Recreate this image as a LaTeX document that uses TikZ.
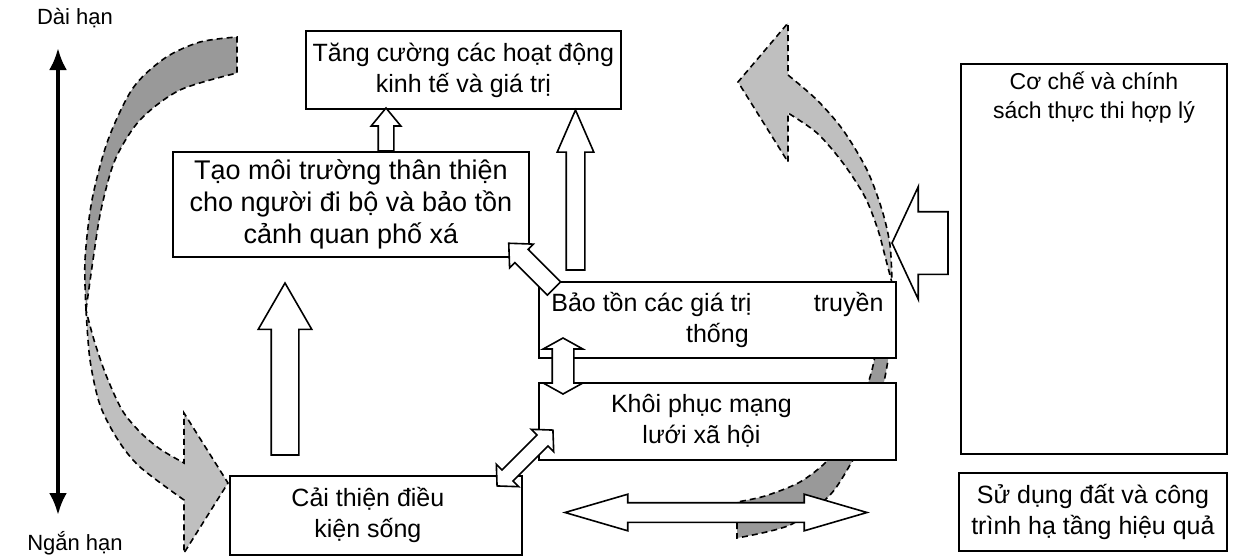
\documentclass[tikz,border=0pt]{standalone}
\usepackage{fontspec}
\setmainfont{Liberation Sans}
\usetikzlibrary{shapes.arrows,arrows.meta,positioning}

\begin{document}
\begin{tikzpicture}[
  x=0.5pt, y=-0.5pt,
  pbox/.style={draw, fill=white, line width=0.9pt, align=center, inner sep=0pt,
               font=\fontsize{12.5}{15.5}\selectfont, anchor=north west},
  ptext/.style={align=center, inner sep=0pt, font=\fontsize{11.5}{14.5}\selectfont},
  term/.style={font=\fontsize{11}{13}\selectfont, inner sep=0pt},
  ribA/.style={fill=black!40, draw=black, line width=0.8pt, dash pattern=on 3pt off 2pt},
  ribB/.style={fill=black!25, draw=black, line width=0.8pt, dash pattern=on 3pt off 2pt},
  blk/.style={single arrow, draw, fill=white, line width=0.8pt, inner xsep=0pt,
              outer sep=0pt, single arrow head indent=0pt, anchor=tail},
  dblk/.style={double arrow, draw, fill=white, line width=0.8pt, inner xsep=0pt,
               outer sep=0pt, double arrow head indent=0pt},
  termarr/.style={{Latex[length=11pt,width=9pt]}-{Latex[length=11pt,width=9pt]}, line width=2pt},
]
\useasboundingbox (0,0) rectangle (1252,558);

%% -- long / short term axis
\node[term] (longt)  at (75,18)  {Dài hạn};
\node[term] (shortt) at (75,543) {Ngắn hạn};
\coordinate (longend)  at (58,48);
\coordinate (shortend) at (58,515);
\draw[termarr] (longend) -- (shortend);

%% -- cycle ribbons (behind the boxes)
% left: dark half then light half with head
\filldraw[ribA] plot[smooth] coordinates {(86,310) (85,260) (92,200) (108,140) (133,88) (165,58) (200,42) (237,37)}
  -- (237,73)
  -- plot[smooth] coordinates {(237,73) (180,90) (140,120) (115,160) (101,210) (93,260) (86,310)} -- cycle;
\filldraw[ribB] plot[smooth] coordinates {(86,310) (90,360) (100,405) (118,440) (140,467) (184,500)}
  -- (184,553) -- (228,483) -- (184,413)
  -- plot[smooth] coordinates {(184,463) (160,449) (140,432) (122,410) (106,375) (94,340) (86,310)} -- cycle;
% right: light half with head then dark half
\filldraw[ribB] plot[smooth] coordinates {(788,75) (817,100) (843,130) (867,170) (882,210) (890,245) (892,283)}
  -- plot[smooth] coordinates {(892,283) (886,260) (878,230) (865,197) (843,163) (817,133) (788,113)}
  -- (788,162) -- (738,82) -- (788,23) -- cycle;
\filldraw[ribA] plot[smooth] coordinates {(892,283) (891,330) (888,360) (880,400) (868,435) (853,460) (830,495) (790,525) (737,538)}
  -- (737,502)
  -- plot[smooth] coordinates {(737,502) (765,496) (800,482) (828,460) (848,430) (862,400) (872,370) (880,330) (892,283)} -- cycle;

%% -- boxes
\node[pbox, minimum width=157.5pt, minimum height=39pt] (econ) at (305,30)
  {Tăng cường các hoạt động\\kinh tế và giá trị};
\node[pbox, minimum width=178pt, minimum height=52.5pt, font=\fontsize{13.5}{16}\selectfont] (walk) at (172,151)
  {Tạo môi trường thân thiện\\cho người đi bộ và bảo tồn\\cảnh quan phố xá};
\node[pbox, minimum width=178.5pt, minimum height=38pt] (trad) at (538,281)
  {Bảo tồn các giá trị\hspace{2.5em}truyền\\thống};
\node[pbox, minimum width=178.5pt, minimum height=38.5pt, below=11.5pt of trad.south west, anchor=north west] (social)
  {Khôi phục mạng\hspace*{16pt}\\lưới xã hội\hspace*{16pt}};
\node[pbox, minimum width=146pt, minimum height=39.5pt] (living) at (229,475)
  {Cải thiện điều\hspace*{8pt}\\kiện sống\hspace*{8pt}};
\node[pbox, minimum width=133pt, minimum height=195pt] (mech) at (960,63) {};
\node[ptext, anchor=north] (mechtxt) at ([yshift=-4pt]mech.north)
  {Cơ chế và chính\\sách thực thi hợp lý};
\node[pbox, minimum width=134pt, minimum height=39pt, below=8.5pt of mech.south west, anchor=north west, xshift=-1pt] (land)
  {Sử dụng đất và công\\trình hạ tầng hiệu quả};

%% -- block arrows
\node[blk, minimum height=21.5pt, inner ysep=3.5pt, single arrow head extend=3.5pt,
      single arrow tip angle=79, rotate=90] (upwalk) at (386,151) {};
\node[blk, minimum height=80pt, inner ysep=4.25pt, single arrow head extend=4.5pt,
      single arrow tip angle=47, rotate=90] (uptrad) at (575.5,270) {};
\node[blk, minimum height=86pt, inner ysep=6.5pt, single arrow head extend=6.5pt,
      single arrow tip angle=60, rotate=90] (upliving) at (285,455) {};
\node[blk, minimum height=32pt, inner ysep=4.25pt, single arrow head extend=3.75pt,
      single arrow tip angle=86, rotate=135] (diagtrad) at (554,288.5) {};
\node[dblk, minimum height=28pt, inner ysep=5pt, double arrow head extend=4.5pt,
      double arrow tip angle=122, rotate=90] (tradsoc) at (563,366) {};
\node[dblk, minimum height=39.5pt, inner ysep=3.5pt, double arrow head extend=4pt,
      double arrow tip angle=94, rotate=45] (socliv) at (525,458) {};
\node[dblk, minimum height=151pt, inner ysep=4.5pt, double arrow head extend=4.25pt,
      double arrow tip angle=32.5] (bottom) at (716,512.5) {};
\node[blk, minimum height=28pt, inner ysep=15.25pt, single arrow head extend=12.5pt,
      single arrow tip angle=130, rotate=180] (policy) at (948,243) {};
\end{tikzpicture}
\end{document}
